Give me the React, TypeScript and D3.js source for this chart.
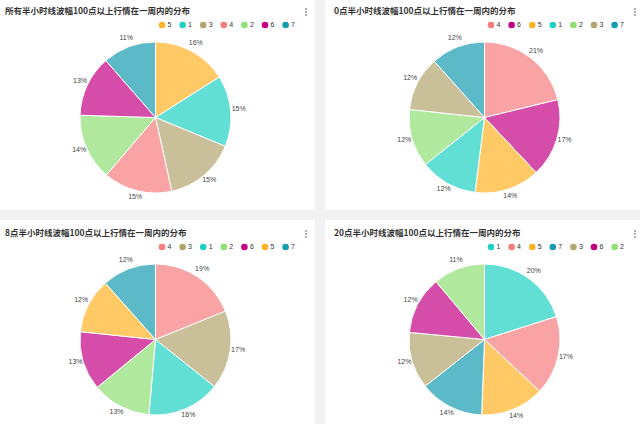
import React from 'react';
import * as d3 from 'd3';

// base colours per weekday key; slices are drawn lighter (opacity) like the original
const COLORS: Record<string, string> = {
  '1': '#20D1C3',
  '2': '#8EE075',
  '3': '#B2A46D',
  '4': '#F67C7E',
  '5': '#FFB224',
  '6': '#C30084',
  '7': '#169BB1',
};

const titles = [
  '所有半小时线波幅100点以上行情在一周内的分布',
  '0点半小时线波幅100点以上行情在一周内的分布',
  '8点半小时线波幅100点以上行情在一周内的分布',
  '20点半小时线波幅100点以上行情在一周内的分布',
];

const keysAll = ['5', '1', '3', '4', '2', '6', '7'];
const valuesAll = [16.0, 15.2, 15.3, 14.7, 14.2, 13.1, 11.4];

const keys0 = ['4', '6', '5', '1', '2', '3', '7'];
const values0 = [21.2, 16.8, 14.0, 12.3, 12.4, 11.7, 11.6];

const keys8 = ['4', '3', '1', '2', '6', '5', '7'];
const values8 = [18.9, 16.9, 15.7, 12.7, 12.6, 11.8, 11.6];

const keys20 = ['1', '4', '5', '7', '3', '6', '2'];
const values20 = [20.1, 16.9, 13.6, 13.8, 12.1, 12.4, 11.1];

const W = 640;
const H = 424;
const PANEL_W = 319;
const PANEL_H = 212;
const origins: [number, number][] = [[-4, -2], [325, -2], [-4, 220], [325, 220]];

const CJK = '"Noto Sans CJK SC", "Noto Sans", sans-serif';
const LATIN = '"Liberation Sans", Arial, sans-serif';

interface PanelProps {
  title: string;
  keys: string[];
  values: number[];
  x: number;
  y: number;
}

const PiePanel: React.FC<PanelProps> = ({ title, keys, values, x, y }) => {
  const radius = 75.5;
  const cx = 159.5;
  const cy = 119.5;
  const total = d3.sum(values);

  const data = keys.map((k, i) => ({ key: k, value: values[i] }));
  const arcs = d3.pie<{ key: string; value: number }>().sort(null).value(d => d.value)(data);
  const arc = d3.arc<d3.PieArcDatum<{ key: string; value: number }>>().innerRadius(0).outerRadius(radius);
  const labelArc = d3.arc<d3.PieArcDatum<{ key: string; value: number }>>().innerRadius(radius + 8).outerRadius(radius + 8);

  const legendX = d3.scaleLinear().domain([0, keys.length - 1]).range([166, 166 + 20.6 * (keys.length - 1)]);

  return (
    <g transform={`translate(${x},${y})`}>
      <rect width={PANEL_W} height={PANEL_H} fill="#fff" />
      <text x={9} y={14} fontFamily={CJK} fontSize={8.5} fontWeight="bold" fill="#333" dominantBaseline="middle">
        {title}
      </text>
      {/* menu dots */}
      {[-3, 0, 3].map(d => (
        <circle key={d} cx={310} cy={14 + d} r={0.9} fill="#888" />
      ))}
      {/* legend */}
      {keys.map((k, i) => (
        <g key={k} transform={`translate(${legendX(i)},27)`}>
          <circle r={3.3} fill={COLORS[k]} />
          <text x={5.5} y={0.3} fontFamily={LATIN} fontSize={7} fill="#333" dominantBaseline="middle">
            {k}
          </text>
        </g>
      ))}
      <g transform={`translate(${cx},${cy})`}>
        {arcs.map(a => (
          <path key={a.data.key} d={arc(a) || ''} fill={COLORS[a.data.key]} fillOpacity={0.7} stroke="#fff" strokeWidth={1} />
        ))}
        {arcs.map(a => {
          const [lx, ly] = labelArc.centroid(a);
          return (
            <text key={'l' + a.data.key} x={lx} y={ly - 1} fontFamily={LATIN} fontSize={7} fill="#444" textAnchor="middle" dominantBaseline="middle">
              {Math.round((a.data.value / total) * 100)}%
            </text>
          );
        })}
      </g>
    </g>
  );
};

export default function App() {
  const panels = [
    { keys: keysAll, values: valuesAll },
    { keys: keys0, values: values0 },
    { keys: keys8, values: values8 },
    { keys: keys20, values: values20 },
  ];
  return (
    <svg width={W} height={H} style={{ position: 'absolute', left: 0, top: 0 }}>
      <rect width={W} height={H} fill="#f2f2f2" />
      {panels.map((p, i) => (
        <PiePanel key={i} title={titles[i]} keys={p.keys} values={p.values} x={origins[i][0]} y={origins[i][1]} />
      ))}
    </svg>
  );
}
